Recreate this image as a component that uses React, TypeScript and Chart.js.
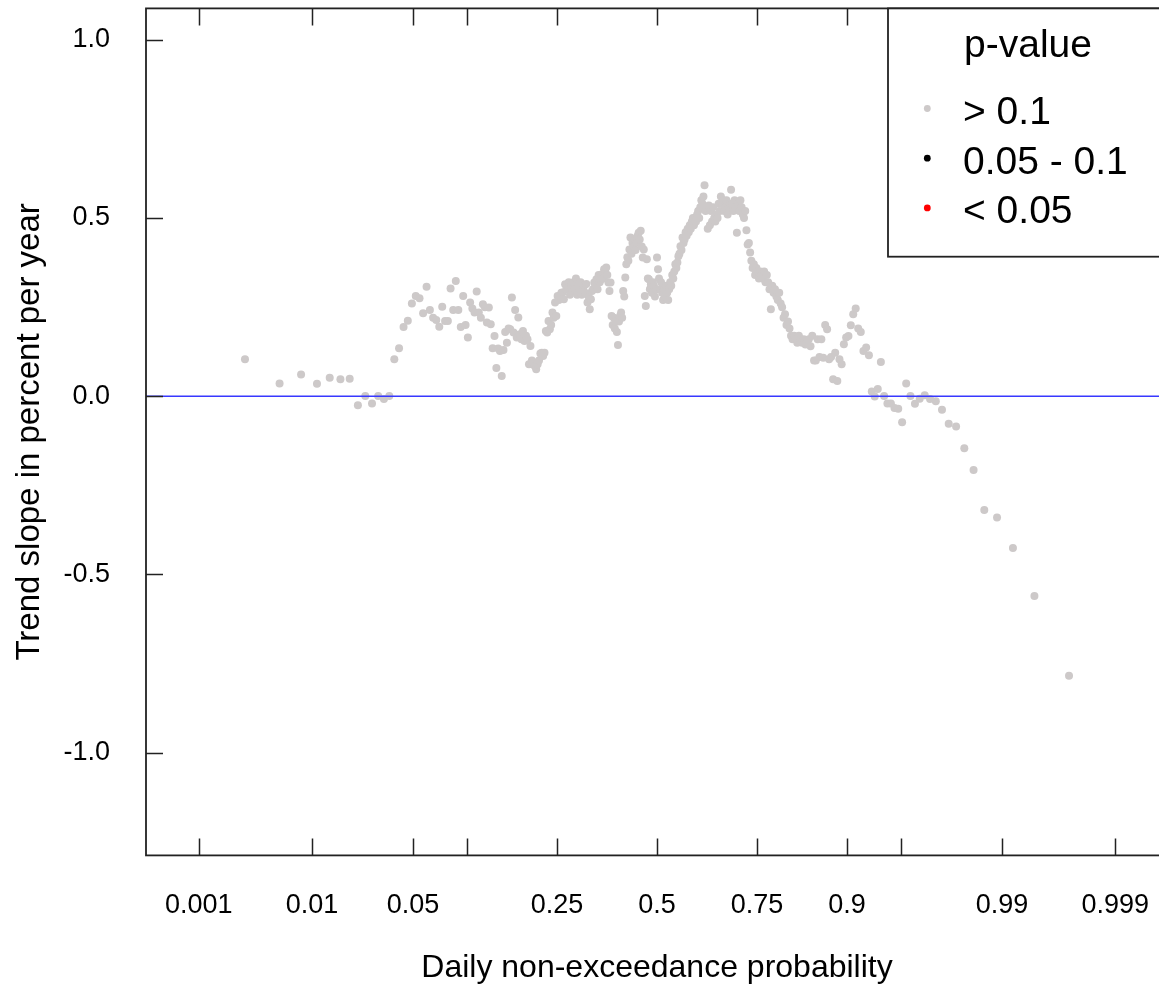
import React, { useEffect, useRef } from "react";
import { Chart, registerables } from "chart.js";

Chart.register(...registerables);

// Trend slopes (percent per year), one per daily quantile, ordered by non-exceedance probability
const slopeLowTail = [0.104, 0.036, 0.061, 0.035, 0.052, 0.048, 0.049, -0.025, 0.001, -0.02, 0.001, -0.008, 0.001, 0.104, 0.135, 0.194, 0.212, 0.26, 0.281, 0.275, 0.233, 0.307, 0.242];
const slopeRise1 = [0.22, 0.214, 0.195, 0.251, 0.211, 0.211, 0.302, 0.242, 0.323, 0.242, 0.194, 0.281, 0.2, 0.165, 0.263, 0.246, 0.235, 0.294, 0.235, 0.22, 0.258, 0.25, 0.207, 0.249, 0.202, 0.135, 0.169, 0.079, 0.134, 0.127, 0.057, 0.13, 0.18, 0.15, 0.19, 0.188, 0.277];
const slopeDip1 = [0.179, 0.242, 0.165, 0.221, 0.174, 0.16, 0.183, 0.155, 0.17, 0.16, 0.09, 0.141, 0.1, 0.095, 0.085, 0.076, 0.09, 0.1, 0.12, 0.122, 0.113, 0.122, 0.183, 0.179, 0.211, 0.188, 0.2, 0.235, 0.22, 0.263, 0.225, 0.281, 0.27, 0.28];
const slopePlateau = [0.29, 0.291, 0.272, 0.314, 0.3, 0.31, 0.32, 0.285, 0.31, 0.295, 0.32, 0.3, 0.33, 0.285, 0.31, 0.3, 0.32, 0.285, 0.3, 0.31, 0.29, 0.315, 0.263, 0.28, 0.244, 0.272, 0.295, 0.3, 0.319, 0.31, 0.328, 0.3, 0.34, 0.32, 0.328, 0.342, 0.33, 0.356, 0.35, 0.361, 0.34, 0.319, 0.295];
const slopeMid1 = [0.319, 0.225, 0.2, 0.22, 0.19, 0.21, 0.18, 0.144, 0.21, 0.225, 0.235, 0.22, 0.295, 0.28, 0.333, 0.37, 0.39, 0.38, 0.412, 0.445, 0.4, 0.43, 0.42, 0.44, 0.41, 0.43, 0.45, 0.459, 0.44, 0.464, 0.42, 0.389, 0.412, 0.281, 0.253, 0.384, 0.33, 0.328, 0.3, 0.314, 0.29, 0.32, 0.309, 0.28, 0.3];
const slopeMid2 = [0.389, 0.356, 0.33, 0.3, 0.32, 0.29, 0.27, 0.3, 0.28, 0.31, 0.29, 0.27, 0.3, 0.32, 0.31, 0.34, 0.33, 0.35, 0.37, 0.36, 0.375, 0.393, 0.4, 0.421, 0.41, 0.445, 0.43, 0.44, 0.46, 0.45, 0.47, 0.46, 0.48, 0.47, 0.49, 0.5, 0.48, 0.5, 0.49, 0.51, 0.52, 0.5, 0.53, 0.55, 0.54, 0.56, 0.592];
const slopePeak = [0.52, 0.53, 0.47, 0.535, 0.48, 0.52, 0.49, 0.53, 0.5, 0.49, 0.51, 0.5, 0.54, 0.52, 0.56, 0.54, 0.55, 0.52, 0.53, 0.55, 0.51, 0.53, 0.54, 0.579, 0.54, 0.52, 0.55, 0.53, 0.459, 0.54, 0.52, 0.55, 0.53, 0.51, 0.5, 0.52, 0.466, 0.426, 0.43, 0.403, 0.38, 0.36, 0.37, 0.34, 0.36, 0.35];
const slopeFall = [0.33, 0.35, 0.34, 0.33, 0.35, 0.32, 0.34, 0.32, 0.3, 0.244, 0.31, 0.29, 0.3, 0.28, 0.27, 0.29, 0.26, 0.25, 0.22, 0.23, 0.2, 0.21, 0.19, 0.17, 0.16, 0.17, 0.16, 0.15, 0.17, 0.16, 0.15, 0.16, 0.145, 0.15, 0.16, 0.14, 0.17, 0.1];
const slopeHighTail = [0.1, 0.16, 0.11, 0.16, 0.108, 0.2, 0.188, 0.104, 0.11, 0.048, 0.122, 0.043, 0.104, 0.09, 0.146, 0.165, 0.169, 0.199, 0.23, 0.246, 0.19, 0.18, 0.127, 0.137, 0.115, 0.013, -0.001, 0.02, 0.096, 0.001, -0.02, -0.02, -0.033, -0.035, -0.073, 0.036, 0.001, -0.021, -0.007, 0.003, -0.008, -0.014, -0.038, -0.077, -0.085, -0.146, -0.207, -0.319, -0.34, -0.426, -0.56, -0.784];

const slopes = [...slopeLowTail, ...slopeRise1, ...slopeDip1, ...slopePlateau, ...slopeMid1, ...slopeMid2, ...slopePeak, ...slopeFall, ...slopeHighTail];

// Weibull plotting positions for the ordered daily values
const probabilities = slopes.map((_, i) => (i + 1) / (slopes.length + 1));

const xTickProbs = [0.001, 0.01, 0.05, 0.1, 0.25, 0.5, 0.75, 0.9, 0.95, 0.99, 0.999];
const xTickLabels = ["0.001", "0.01", "0.05", "", "0.25", "0.5", "0.75", "0.9", "", "0.99", "0.999"];
const yTicks = [-1, -0.5, 0, 0.5, 1];
const legendLabels = ["> 0.1", "0.05 - 0.1", "< 0.05"];
const legendColors = ["#CDC9C9", "#000000", "#FF0000"];

const Z_LIM = 3.4457;
const Y_MIN = -1.288;
const Y_MAX = 1.088;

const FONT = "'Liberation Sans', Arial, sans-serif";

function qnorm(p: number): number {
  const a = [-3.969683028665376e1, 2.209460984245205e2, -2.759285104469687e2, 1.38357751867269e2, -3.066479806614716e1, 2.506628277459239];
  const b = [-5.447609879822406e1, 1.615858368580409e2, -1.556989798598866e2, 6.680131188771972e1, -1.328068155288572e1];
  const c = [-7.784894002430293e-3, -3.223964580411365e-1, -2.400758277161838, -2.549732539343734, 4.374664141464968, 2.938163982698783];
  const d = [7.784695709041462e-3, 3.224671290700398e-1, 2.445134137142996, 3.754408661907416];
  const pl = 0.02425;
  if (p < pl) {
    const q = Math.sqrt(-2 * Math.log(p));
    return (((((c[0] * q + c[1]) * q + c[2]) * q + c[3]) * q + c[4]) * q + c[5]) / ((((d[0] * q + d[1]) * q + d[2]) * q + d[3]) * q + 1);
  }
  if (p <= 1 - pl) {
    const q = p - 0.5;
    const r = q * q;
    return ((((((a[0] * r + a[1]) * r + a[2]) * r + a[3]) * r + a[4]) * r + a[5]) * q) / (((((b[0] * r + b[1]) * r + b[2]) * r + b[3]) * r + b[4]) * r + 1);
  }
  const q = Math.sqrt(-2 * Math.log(1 - p));
  return -(((((c[0] * q + c[1]) * q + c[2]) * q + c[3]) * q + c[4]) * q + c[5]) / ((((d[0] * q + d[1]) * q + d[2]) * q + d[3]) * q + 1);
}

const framePlugin = {
  id: "rFrame",
  afterDraw(chart: any) {
    const { ctx, chartArea } = chart;
    const { left, right, top, bottom } = chartArea;
    const xs = chart.scales.x;
    const ys = chart.scales.y;
    const tick = 17;
    ctx.save();
    ctx.strokeStyle = "#222";
    ctx.lineWidth = 1.5;
    ctx.beginPath();
    xs.ticks.forEach((t: any) => {
      const px = Math.round(xs.getPixelForValue(t.value)) + 0.5;
      ctx.moveTo(px, bottom);
      ctx.lineTo(px, bottom - tick);
      ctx.moveTo(px, top);
      ctx.lineTo(px, top + tick);
    });
    ys.ticks.forEach((t: any) => {
      const py = Math.round(ys.getPixelForValue(t.value)) + 0.5;
      ctx.moveTo(left, py);
      ctx.lineTo(left + tick, py);
    });
    ctx.stroke();
    ctx.lineWidth = 1.8;
    ctx.strokeRect(left, top, right - left, bottom - top);

    // legend box (top right, inside plot)
    const bx = 888;
    const by = top;
    const bw = right - bx;
    const bh = 256.7 - top;
    ctx.fillStyle = "#fff";
    ctx.fillRect(bx, by, bw, bh);
    ctx.strokeStyle = "#222";
    ctx.lineWidth = 1.8;
    ctx.strokeRect(bx, by, bw, bh);
    ctx.fillStyle = "#000";
    ctx.font = `39px ${FONT}`;
    ctx.textBaseline = "alphabetic";
    ctx.textAlign = "center";
    ctx.fillText("p-value", bx + bw / 2, 57);
    ctx.textAlign = "left";
    const datasets = chart.data.datasets.filter((d: any) => d.pValueClass);
    datasets.forEach((d: any, i: number) => {
      const base = 124 + i * 49.7;
      ctx.fillStyle = d.backgroundColor;
      ctx.beginPath();
      ctx.arc(927.3, base - 15.5, 3.4, 0, Math.PI * 2);
      ctx.fill();
      ctx.fillStyle = "#000";
      ctx.fillText(d.label, 963, base);
    });
    ctx.restore();
  },
};

export default function App() {
  const ref = useRef<HTMLCanvasElement>(null);

  useEffect(() => {
    if (!ref.current) return;
    const points = slopes.map((s, i) => ({ x: qnorm(probabilities[i]), y: s }));
    const chart = new Chart(ref.current, {
      type: "scatter",
      data: {
        datasets: [
          {
            type: "line",
            label: "zero",
            data: [
              { x: -Z_LIM, y: 0 },
              { x: Z_LIM, y: 0 },
            ],
            borderColor: "#3838FF",
            borderWidth: 1.6,
            pointRadius: 0,
            order: 0,
          } as any,
          {
            label: legendLabels[0],
            pValueClass: true,
            data: points,
            backgroundColor: legendColors[0],
            borderWidth: 0,
            pointRadius: 4,
            order: 1,
          } as any,
          {
            label: legendLabels[1],
            pValueClass: true,
            data: [],
            backgroundColor: legendColors[1],
            borderWidth: 0,
            pointRadius: 4,
            order: 1,
          } as any,
          {
            label: legendLabels[2],
            pValueClass: true,
            data: [],
            backgroundColor: legendColors[2],
            borderWidth: 0,
            pointRadius: 4,
            order: 1,
          } as any,
        ],
      },
      options: {
        responsive: false,
        animation: false,
        devicePixelRatio: 1,
        layout: { padding: { top: 8.4, right: 12, left: 0, bottom: 0 } },
        plugins: {
          legend: { display: false },
          tooltip: { enabled: false },
          title: { display: false },
        },
        scales: {
          x: {
            type: "linear",
            min: -Z_LIM,
            max: Z_LIM,
            grid: { display: false, drawTicks: false },
            border: { display: false },
            afterBuildTicks: (s: any) => {
              s.ticks = xTickProbs.map((p) => ({ value: qnorm(p) }));
            },
            afterFit: (s: any) => {
              s.height = 136.6;
              s.paddingLeft = 0;
              s.paddingRight = 0;
              s.paddingTop = 0;
              s.paddingBottom = 0;
            },
            ticks: {
              autoSkip: false,
              maxRotation: 0,
              minRotation: 0,
              padding: 34,
              color: "#000",
              font: { family: FONT, size: 27 },
              callback: (_v: any, i: number) => xTickLabels[i],
            },
            title: {
              display: true,
              text: "Daily non-exceedance probability",
              color: "#000",
              font: { family: FONT, size: 32 },
              padding: { top: 0, bottom: 4.8 },
            },
          },
          y: {
            type: "linear",
            min: Y_MIN,
            max: Y_MAX,
            grid: { display: false, drawTicks: false },
            border: { display: false },
            afterBuildTicks: (s: any) => {
              s.ticks = yTicks.map((v) => ({ value: v }));
            },
            afterFit: (s: any) => {
              s.width = 146;
              s.paddingLeft = 0;
              s.paddingRight = 0;
              s.paddingTop = 0;
              s.paddingBottom = 0;
            },
            ticks: {
              padding: 36,
              color: "#000",
              font: { family: FONT, size: 27 },
              callback: (v: any) => Number(v).toFixed(1),
            },
            title: {
              display: true,
              text: "Trend slope in percent per year",
              color: "#000",
              font: { family: FONT, size: 33 },
              padding: { top: 10.4, bottom: 0 },
            },
          },
        },
      } as any,
      plugins: [framePlugin],
    });
    return () => chart.destroy();
  }, []);

  return (
    <div
      style={{
        position: "fixed",
        left: 0,
        top: 0,
        width: 1159,
        height: 992,
        overflow: "hidden",
        background: "#fff",
      }}
    >
      <canvas ref={ref} width={1180} height={992} style={{ display: "block", width: 1180, height: 992 }} />
    </div>
  );
}
